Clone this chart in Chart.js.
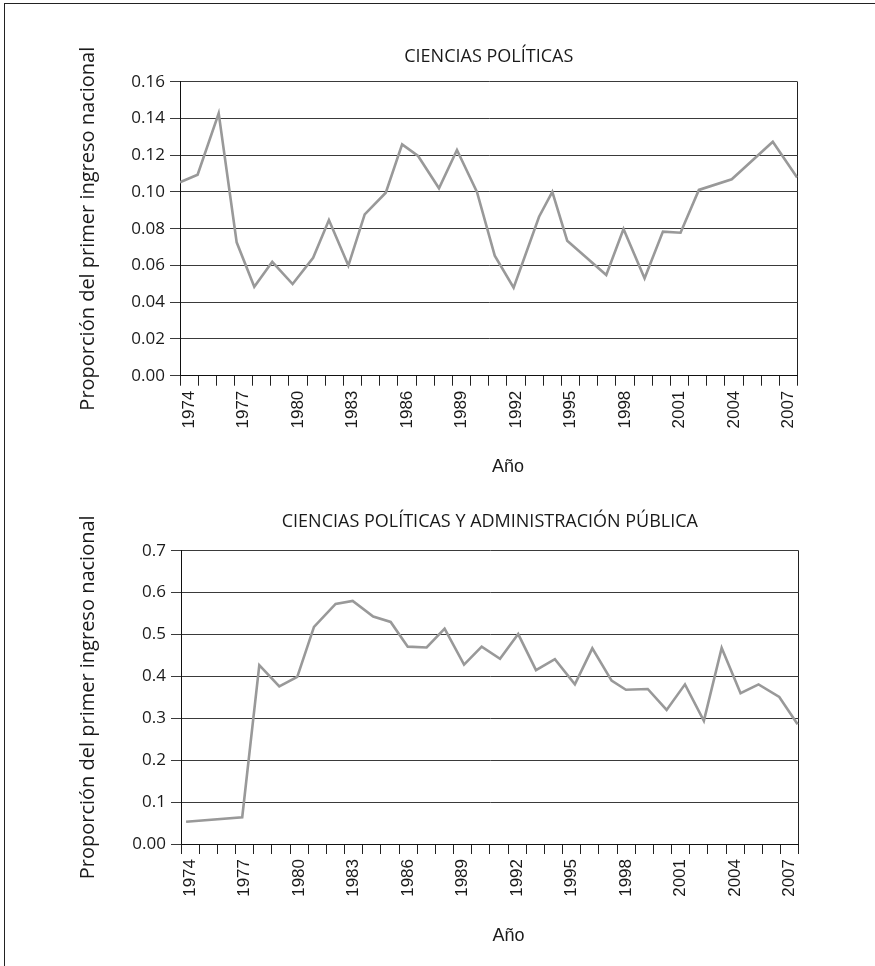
<!DOCTYPE html>
<html><head><meta charset="utf-8">
<script src="https://cdn.jsdelivr.net/npm/chart.js@4.4.1/dist/chart.umd.min.js"></script>
<style>
html,body{margin:0;padding:0;background:#fff;width:875px;height:966px;overflow:hidden;}
#frame{position:absolute;left:4px;top:3px;width:900px;height:1000px;border-left:1.5px solid #222;border-top:1.5px solid #222;}
#c1{position:absolute;left:0;top:0;}
#c2{position:absolute;left:0;top:480px;}
</style></head><body>
<div id="frame"></div>
<canvas id="c1" width="875" height="480"></canvas>
<canvas id="c2" width="875" height="486"></canvas>
<script>
// ---- categories (years on the x axis) ----
const years = [1974,1975,1976,1977,1978,1979,1980,1981,1982,1983,1984,1985,1986,1987,1988,1989,1990,
               1991,1992,1993,1994,1995,1996,1997,1998,1999,2000,2001,2002,2003,2004,2005,2006,2007];
const labelledYears = [1974,1977,1980,1983,1986,1989,1992,1995,1998,2001,2004,2007];
const xTickLabels = ['1974','1977','1980','1983','1986','1989','1992','1995','1998','2001','2004','2007'];

// ---- Chart 1: CIENCIAS POLÍTICAS ----
const title1 = 'CIENCIAS POLÍTICAS';
const x1 = [1973.5,1974.47,1975.63,1976.62,1977.59,1978.58,1979.7,1980.83,1981.7,1982.77,1983.67,1984.83,
            1985.73,1986.61,1987.76,1988.75,1989.85,1990.83,1991.87,1993.27,1994.0,1994.82,1996.97,1997.92,
            1999.08,2000.09,2001.06,2002.07,2003.88,2006.14,2007.48];
const v1 = [0.1053,0.1094,0.1428,0.0726,0.0484,0.0620,0.0499,0.0642,0.0847,0.0599,0.0878,0.0996,
            0.1259,0.1196,0.1020,0.1228,0.1000,0.0653,0.0479,0.0865,0.1001,0.0735,0.0548,0.0798,
            0.0530,0.0784,0.0778,0.1011,0.1069,0.1273,0.1078];
const yTicks1 = [0,0.02,0.04,0.06,0.08,0.10,0.12,0.14,0.16];
const yLabels1 = ['0.00','0.02','0.04','0.06','0.08','0.10','0.12','0.14','0.16'];

// ---- Chart 2: CIENCIAS POLÍTICAS Y ADMINISTRACIÓN PÚBLICA ----
const title2 = 'CIENCIAS POLÍTICAS Y ADMINISTRACIÓN PÚBLICA';
const x2 = [1973.78,1976.87,1977.81,1978.91,1979.90,1980.82,1982.01,1982.95,1984.08,1985.04,1985.98,
            1987.02,1988.01,1989.08,1990.05,1991.06,1992.06,1993.04,1994.08,1995.18,1996.14,1997.2,
            1997.99,1999.19,2000.23,2001.24,2002.28,2003.26,2004.3,2005.29,2006.43,2007.44];
const v2 = [0.053,0.064,0.427,0.376,0.399,0.518,0.573,0.580,0.543,0.530,0.471,0.469,0.514,0.428,
            0.471,0.442,0.501,0.415,0.441,0.381,0.467,0.390,0.368,0.370,0.320,0.381,0.294,0.468,
            0.360,0.381,0.351,0.286];
const yTicks2 = [0,0.1,0.2,0.3,0.4,0.5,0.6,0.7];
const yLabels2 = ['0.00','0.1','0.2','0.3','0.4','0.5','0.6','0.7'];

const yTitle = 'Proporción del primer ingreso nacional';
const xTitle = 'Año';

const xMin = years[0] - 0.5, xMax = years[years.length-1] + 0.5;
const TXT = '#1a1a1a';

const axisLabelPlugin = {
  id: 'axisLabel',
  afterDraw(chart, args, opts) {
    const ctx = chart.ctx;
    ctx.save();
    ctx.font = opts.font;
    ctx.fillStyle = TXT;
    ctx.textAlign = 'center';
    ctx.textBaseline = 'middle';
    ctx.fillText(opts.text, opts.x, opts.y);
    ctx.restore();
  }
};

function makeChart(canvas, cfg) {
  return new Chart(canvas, {
    type: 'line',
    data: { datasets: [{
      data: cfg.xs.map((x, i) => ({ x: x, y: cfg.vs[i] })),
      borderColor: '#999999', borderWidth: 2.6, pointRadius: 0, tension: 0, fill: false
    }]},
    plugins: [axisLabelPlugin],
    options: {
      responsive: false, animation: false, devicePixelRatio: 1,
      layout: { padding: { left: cfg.padL, right: cfg.padR, top: 0, bottom: 0 } },
      plugins: {
        legend: { display: false }, tooltip: { enabled: false },
        title: { display: true, text: cfg.title, fullSize: false, color: TXT,
                 font: { family: 'Open Sans', size: 18, weight: 'normal' },
                 padding: { top: cfg.titleTop, bottom: cfg.titleBottom } },
        axisLabel: { text: xTitle, x: cfg.xtX, y: cfg.xtY, font: '18px "Liberation Sans"' }
      },
      scales: {
        x: {
          type: 'linear', min: xMin, max: xMax,
          afterBuildTicks: s => {
            const t = [];
            years.forEach(y => { t.push({ value: y - 0.5 }); t.push({ value: y }); });
            t.push({ value: xMax });
            s.ticks = t;
          },
          afterFit: s => { s.height = cfg.xH; },
          ticks: {
            autoSkip: false, maxRotation: 90, minRotation: 90, padding: 5, color: TXT,
            font: { family: 'Liberation Sans', size: 17 },
            callback: v => { const k = labelledYears.indexOf(v); return k >= 0 ? xTickLabels[k] : ''; }
          },
          grid: {
            display: true, drawOnChartArea: true, drawTicks: true, tickLength: 10, lineWidth: 1,
            color: c => (c.tick && c.tick.value === xMax) ? '#222' : 'rgba(0,0,0,0)',
            tickColor: c => (c.tick && !Number.isInteger(c.tick.value)) ? '#222' : 'rgba(0,0,0,0)'
          },
          border: { display: true, color: '#111', width: 1 }
        },
        y: {
          type: 'linear', min: 0, max: cfg.yTicks[cfg.yTicks.length-1],
          afterBuildTicks: s => { s.ticks = cfg.yTicks.map(v => ({ value: v })); },
          afterFit: s => { s.width = cfg.yW; },
          ticks: { padding: 5, color: TXT, font: { family: 'Open Sans', size: 17 },
                   callback: (v, i) => cfg.yLabels[i] },
          grid: { color: '#3a3a3a', lineWidth: 1, tickLength: 10 },
          border: { display: true, color: '#111', width: 1 },
          title: { display: true, text: yTitle, color: TXT,
                   font: { family: 'Open Sans', size: 20, weight: 'normal' },
                   padding: { top: cfg.yTitlePad, bottom: 0 } }
        }
      }
    }
  });
}

makeChart(document.getElementById('c1'), {
  xs: x1, vs: v1, title: title1, yTicks: yTicks1, yLabels: yLabels1,
  padL: 60, yW: 120, padR: 77.5, titleTop: 46.2, titleBottom: 13.9, xH: 104.3,
  yTitlePad: 16, xtX: 508, xtY: 466.7
});
makeChart(document.getElementById('c2'), {
  xs: x2, vs: v2, title: title2, yTicks: yTicks2, yLabels: yLabels2,
  padL: 60, yW: 121, padR: 76.3, titleTop: 31.2, titleBottom: 17.9, xH: 122,
  yTitlePad: 16, xtX: 508.5, xtY: 456.5
});
</script></body></html>
